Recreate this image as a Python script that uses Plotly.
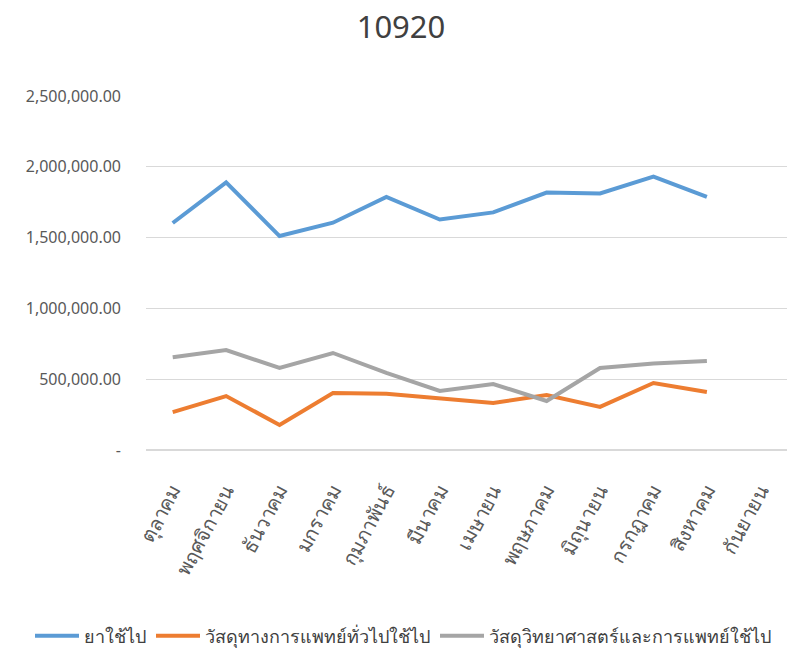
import plotly.graph_objects as go

months = ["ตุลาคม", "พฤศจิกายน", "ธันวาคม", "มกราคม", "กุมภาพันธ์", "มีนาคม",
          "เมษายน", "พฤษภาคม", "มิถุนายน", "กรกฎาคม", "สิงหาคม", "กันยายน"]
drugs = [1603000, 1890000, 1511000, 1605000, 1787000, 1628000,
         1678000, 1818000, 1812000, 1930000, 1787000, None]
medical_supplies = [268000, 381000, 177000, 403000, 397000, 367000,
                    332000, 388000, 304000, 473000, 410000, None]
lab_supplies = [655000, 706000, 579000, 685000, 544000, 417000,
                466000, 346000, 579000, 610000, 629000, None]
series_names = ["ยาใช้ไป", "วัสดุทางการแพทย์ทั่วไปใช้ไป", "วัสดุวิทยาศาสตร์และการแพทย์ใช้ไป"]
y_ticks = [0, 500000, 1000000, 1500000, 2000000, 2500000]
y_tick_text = ["-", "500,000.00", "1,000,000.00", "1,500,000.00", "2,000,000.00", "2,500,000.00"]

colors = ["#5B9BD5", "#ED7D31", "#A5A5A5"]
font_family = "Noto Sans, sans-serif"

W, H = 787, 661
ML, MR, MT, MB = 146, 0, 96, 211
plot_w = W - ML - MR
plot_h = H - MT - MB

fig = go.Figure()
for name, vals, c in zip(series_names, [drugs, medical_supplies, lab_supplies], colors):
    fig.add_trace(go.Scatter(x=months, y=vals, name=name, mode="lines",
                             line=dict(color=c, width=4), connectgaps=False))

fig.update_layout(
    width=W, height=H,
    paper_bgcolor="white", plot_bgcolor="white",
    margin=dict(l=ML, r=MR, t=MT, b=MB, autoexpand=False),
    title=dict(text="10920", x=401 / W, xanchor="center", xref="container",
               y=1 - 27 / H, yanchor="middle", yref="container",
               font=dict(size=31, color="#404040", family=font_family)),
    font=dict(family=font_family, color="#595959"),
    showlegend=True,
    legend=dict(orientation="h", xref="paper", x=(30 - ML) / plot_w, xanchor="left",
                yref="paper", y=-(636 - (MT + plot_h)) / plot_h, yanchor="middle",
                font=dict(size=18, color="#404040"), itemwidth=44, tracegroupgap=0,
                bgcolor="rgba(0,0,0,0)"),
    xaxis=dict(tickangle=-62, tickfont=dict(size=20, color="#595959"),
               showgrid=False, showline=False, ticks="", range=[-0.5, 11.5],
               automargin=False, ticklabelstandoff=24),
    yaxis=dict(range=[0, 2500000], tickvals=y_ticks, ticktext=y_tick_text,
               tickfont=dict(size=16, color="#595959"), showgrid=True,
               gridcolor="#D9D9D9", gridwidth=1, zeroline=True, zerolinecolor="#D9D9D9",
               showline=False, ticks="", ticklabelstandoff=24, automargin=False),
)

fig.write_html("out.html", config={"displayModeBar": False},
               post_script="document.body.style.margin='0';document.body.style.overflow='hidden';")
